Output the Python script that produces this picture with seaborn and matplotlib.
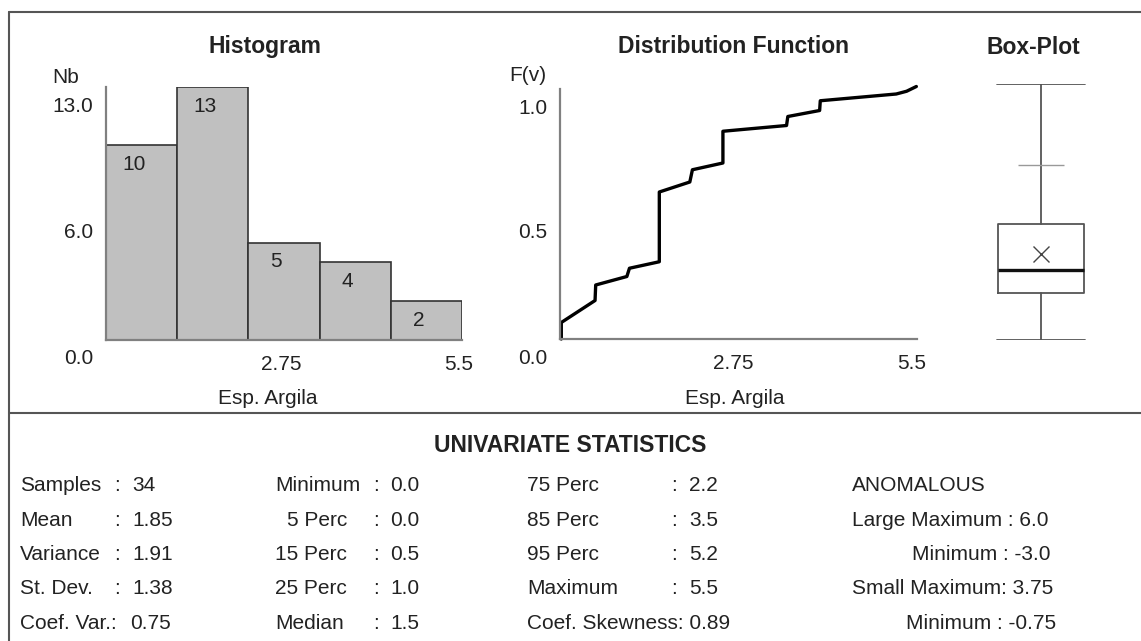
import numpy as np
import pandas as pd
import matplotlib
matplotlib.use("Agg")
import matplotlib.pyplot as plt
import matplotlib.transforms as mtrans
from matplotlib.lines import Line2D
import seaborn as sns

# ---------------- data ----------------
bin_edges = [0.0, 1.1, 2.2, 3.3, 4.4, 5.5]
bin_counts = [10, 13, 5, 4, 2]
hist_yticks = [0.0, 6.5, 13.0]
hist_yticklabels = ["0.0", "6.0", "13.0"]
x_ticks = [2.75, 5.5]
x_ticklabels = ["2.75", "5.5"]

cdf_x = [0.02, 0.02, 0.54, 0.55, 1.03, 1.07, 1.53, 1.53, 2.00, 2.04, 2.51, 2.51,
         3.49, 3.51, 4.00, 4.01, 5.18, 5.34, 5.49]
cdf_f = [0.0, 0.066, 0.154, 0.216, 0.250, 0.283, 0.309, 0.588, 0.628, 0.677, 0.704, 0.831,
         0.854, 0.890, 0.914, 0.953, 0.980, 0.991, 1.010]
cdf_yticks = [0.0, 0.5, 1.0]
cdf_yticklabels = ["0.0", "0.5", "1.0"]

box_min, box_q1, box_med, box_q3, box_max = 0.0, 1.0, 1.5, 2.5, 5.5
box_mean = 1.85
box_small_max = 3.75

stat_col1_labels = ["Samples", "Mean", "Variance", "St. Dev."]
stat_col1_values = ["34", "1.85", "1.91", "1.38"]
stat_coef_var = "0.75"
stat_col2_labels = ["Minimum", "5 Perc", "15 Perc", "25 Perc", "Median"]
stat_col2_values = ["0.0", "0.0", "0.5", "1.0", "1.5"]
stat_col3_labels = ["75 Perc", "85 Perc", "95 Perc", "Maximum"]
stat_col3_values = ["2.2", "3.5", "5.2", "5.5"]
stat_skewness = "0.89"
anom_large_max, anom_large_min = "6.0", "-3.0"
anom_small_max, anom_small_min = "3.75", "-0.75"

# ---------------- style ----------------
sns.set_style("white")
plt.rcParams['font.family'] = ['Liberation Sans', 'DejaVu Sans']
TXT = '#222222'
AX = '#808080'

W, H = 1141, 641
fig = plt.figure(figsize=(W / 100, H / 100), dpi=100)
fig.patch.set_facecolor('white')


def fx(px):
    return px / W


def fy(py):
    return 1 - py / H


def rect(l, t, r, b):
    return [fx(l), fy(b), fx(r) - fx(l), fy(t) - fy(b)]


def ftext(x, y, s, size=15, weight='normal', ha='left'):
    # y is visual center of capitals
    cap = 0.716 * size * 100 / 72
    fig.text(fx(x), fy(y + cap / 2), s, fontsize=size, fontweight=weight,
             ha=ha, va='baseline', color=TXT)


def style_axes(ax):
    for s in ['top', 'right']:
        ax.spines[s].set_visible(False)
    for s in ['left', 'bottom']:
        ax.spines[s].set_color(AX)
        ax.spines[s].set_linewidth(1.6)
    ax.tick_params(axis='both', direction='out', length=3, width=1.2,
                   color=AX, labelsize=15, labelcolor=TXT)
    ax.tick_params(axis='y', pad=6)
    ax.tick_params(axis='x', pad=8)
    ax.set_facecolor('white')
    ax.grid(False)


def shift_labels(ax, which, dx, dy):
    labels = ax.get_yticklabels() if which == 'y' else ax.get_xticklabels()
    for lab in labels:
        lab.set_transform(lab.get_transform() +
                          mtrans.ScaledTranslation(dx / 100, -dy / 100, fig.dpi_scale_trans))


# ---------------- histogram ----------------
ax1 = fig.add_axes(rect(106, 87, 462, 340))
centers = [(a + b) / 2 for a, b in zip(bin_edges[:-1], bin_edges[1:])]
sns.histplot(x=centers, weights=bin_counts, bins=bin_edges, ax=ax1,
             color='#c0c0c0', edgecolor='#333333', linewidth=1.2, alpha=1.0)
ax1.set_xlim(0, 5.5)
ax1.set_ylim(0, 13)
style_axes(ax1)
ax1.set_xticks(x_ticks)
ax1.set_xticklabels(x_ticklabels)
ax1.set_yticks(hist_yticks)
ax1.set_yticklabels(hist_yticklabels)
ax1.set_xlabel('')
ax1.set_ylabel('')
shift_labels(ax1, 'y', 0, 17)
shift_labels(ax1, 'x', -3, 0)
for c, n in zip(centers, bin_counts):
    ax1.annotate(str(n), (c, n), xytext=(-8, -19), textcoords='offset pixels',
                 ha='center', va='center', fontsize=15, color=TXT)

# ---------------- distribution function ----------------
ax2 = fig.add_axes(rect(560, 89, 917, 339))
cdf_df = pd.DataFrame({'v': cdf_x, 'F': cdf_f})
sns.lineplot(data=cdf_df, x='v', y='F', sort=False, estimator=None,
             color='black', linewidth=2.4, ax=ax2)
for ln in ax2.lines:
    ln.set_clip_on(False)
ax2.set_xlim(0, 5.5)
ax2.set_ylim(0, 1.0)
style_axes(ax2)
ax2.set_xticks(x_ticks)
ax2.set_xticklabels(x_ticklabels)
ax2.set_yticks(cdf_yticks)
ax2.set_yticklabels(cdf_yticklabels)
ax2.set_xlabel('')
ax2.set_ylabel('')
shift_labels(ax2, 'y', 0, 17)
shift_labels(ax2, 'x', -5, 0)

# ---------------- box plot ----------------
ax3 = fig.add_axes(rect(980, 84, 1102, 340))
stats = [dict(med=box_med, q1=box_q1, q3=box_q3, whislo=box_min, whishi=box_max,
              mean=box_mean, fliers=[])]
lc = '#555555'
ax3.bxp(stats, positions=[1], widths=0.713, capwidths=0.72, showmeans=True,
        showfliers=False, patch_artist=False,
        boxprops=dict(color=lc, linewidth=1.3),
        whiskerprops=dict(color=lc, linewidth=1.3),
        capprops=dict(color=lc, linewidth=1.3),
        medianprops=dict(color='#111111', linewidth=2.4),
        meanprops=dict(marker='x', markeredgecolor='#444444', markersize=11,
                       markeredgewidth=1.0, linestyle='none'))
ax3.hlines(box_small_max, 1 - 0.19, 1 + 0.19, color='#999999', linewidth=1.0)
ax3.set_xlim(0.5, 1.5)
ax3.set_ylim(0, 5.5)
ax3.axis('off')

# ---------------- titles / labels ----------------
ftext(265, 45, "Histogram", size=16.5, weight='bold', ha='center')
ftext(733, 45, "Distribution Function", size=16.5, weight='bold', ha='center')
ftext(1033, 46, "Box-Plot", size=16.5, weight='bold', ha='center')
ftext(66, 76, "Nb", size=15, ha='center')
ftext(528, 74, "F(v)", size=15, ha='center')
ftext(268, 397, "Esp. Argila", size=15, ha='center')
ftext(735, 397, "Esp. Argila", size=15, ha='center')

# ---------------- frame ----------------
fc = '#555555'
for (x0, y0, x1, y1) in [(9, 12, W, 12), (9, 12, 9, H), (9, 413, W, 413)]:
    fig.add_artist(Line2D([fx(x0), fx(x1)], [fy(y0), fy(y1)], color=fc,
                          linewidth=1.5, transform=fig.transFigure))

# ---------------- statistics ----------------
ftext(570, 444, "UNIVARIATE STATISTICS", size=16.5, weight='bold', ha='center')
rows_y = [484, 519, 553, 587, 622]

for y, lab, val in zip(rows_y, stat_col1_labels, stat_col1_values):
    ftext(20, y, lab)
    ftext(117, y, ":", ha='center')
    ftext(132, y, val)
ftext(20, rows_y[4], "Coef. Var.:")
ftext(130, rows_y[4], stat_coef_var)

col2_x = [275, 287, 275, 275, 275]
for y, x, lab, val in zip(rows_y, col2_x, stat_col2_labels, stat_col2_values):
    ftext(x, y, lab)
    ftext(376, y, ":", ha='center')
    ftext(390, y, val)

for y, lab, val in zip(rows_y, stat_col3_labels, stat_col3_values):
    ftext(527, y, lab)
    ftext(674, y, ":", ha='center')
    ftext(689, y, val)
ftext(527, rows_y[4], "Coef. Skewness: " + stat_skewness)

ftext(852, rows_y[0], "ANOMALOUS")
ftext(852, rows_y[1], "Large Maximum : " + anom_large_max)
ftext(912, rows_y[2], "Minimum : " + anom_large_min)
ftext(852, rows_y[3], "Small Maximum: " + anom_small_max)
ftext(906, rows_y[4], "Minimum : " + anom_small_min)

fig.savefig("out.png", dpi=100, facecolor='white')
